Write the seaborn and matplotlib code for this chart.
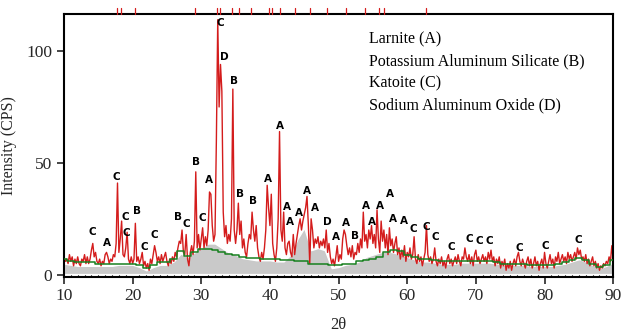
import numpy as np
import pandas as pd
import matplotlib
matplotlib.use("Agg")
import matplotlib.pyplot as plt
from matplotlib.ticker import MultipleLocator
import matplotlib.transforms as mtransforms
import seaborn as sns

# ---- data -------------------------------------------------------------
# measured intensity (CPS), scan 10..90 deg 2theta, step 0.2
intensity = [
    8, 6, 7, 5, 9, 6, 8, 4, 7, 5, 8, 5, 4, 7, 6, 9, 5, 8, 5, 7, 11, 14, 8, 10, 6,
    5, 7, 4, 6, 5, 9, 10, 8, 5, 7, 6, 9, 8, 14, 41, 10, 16, 24, 9, 8, 12, 19, 7, 5, 8,
    5, 7, 23, 6, 8, 5, 7, 10, 4, 6, 3, 5, 2, 7, 5, 9, 13, 10, 6, 8, 5, 9, 6, 8, 10,
    6, 4, 7, 5, 8, 6, 10, 8, 12, 15, 14, 20, 10, 9, 18, 7, 4, 10, 13, 9, 15, 46, 12, 18, 11,
    16, 21, 12, 17, 13, 20, 37, 36, 22, 15, 18, 60, 114, 75, 94, 82, 28, 17, 22, 14, 18, 15, 25, 83, 20,
    14, 20, 32, 18, 24, 12, 16, 10, 8, 14, 18, 16, 28, 20, 15, 22, 12, 8, 6, 10, 7, 12, 20, 40, 30,
    22, 36, 14, 9, 6, 12, 25, 64, 20, 15, 28, 12, 9, 14, 15, 10, 8, 18, 9, 14, 18, 22, 25, 20, 24,
    27, 30, 35, 22, 5, 25, 20, 12, 16, 14, 17, 12, 15, 13, 16, 12, 20, 10, 14, 8, 5, 7, 4, 8, 13,
    6, 9, 7, 16, 20, 18, 13, 9, 12, 8, 13, 7, 10, 9, 14, 10, 16, 12, 28, 15, 18, 12, 20, 16, 22,
    14, 18, 12, 29, 16, 10, 24, 15, 20, 12, 18, 9, 21, 13, 16, 10, 14, 17, 9, 12, 7, 11, 8, 13, 6,
    10, 8, 12, 7, 9, 17, 7, 5, 9, 6, 8, 4, 7, 10, 22, 9, 6, 8, 5, 7, 12, 6, 4, 7, 5,
    8, 4, 6, 3, 7, 9, 5, 7, 4, 6, 8, 5, 9, 6, 4, 8, 7, 12, 8, 6, 9, 5, 8, 4, 9,
    11, 6, 8, 5, 7, 9, 6, 8, 5, 10, 7, 11, 6, 8, 4, 7, 5, 8, 3, 6, 4, 7, 2, 5, 3,
    6, 2, 5, 7, 4, 8, 10, 6, 4, 7, 5, 3, 6, 8, 4, 7, 3, 5, 8, 4, 6, 2, 5, 7, 3,
    10, 5, 3, 6, 9, 5, 7, 3, 8, 6, 10, 5, 7, 9, 6, 8, 5, 10, 7, 9, 6, 8, 10, 7, 12,
    9, 11, 7, 8, 6, 9, 5, 7, 4, 6, 8, 4, 6, 3, 5, 2, 4, 3, 5, 4, 6, 5, 8, 6, 13,
    7,
]
two_theta = np.round(np.linspace(10, 90, len(intensity)), 2)

# background (green) and amorphous fill (gray), 1 deg step
bg_theta = list(range(10, 91))
background = [7, 6, 5.5, 5.5, 5.5, 5, 5, 5, 5, 5, 5, 4.5, 3, 4.5, 5.5, 5.5, 7, 10.5, 8.5, 10,
              11.5, 11.5, 11, 10, 9.5, 9, 8, 7.5, 7.5, 7, 7, 7, 6.5, 6.5, 6, 6, 5, 5, 5, 4.5,
              4.5, 5, 5, 6, 6.5, 7, 8, 10, 11, 10.5, 9, 8, 7, 7, 6.5, 6, 6, 6, 6, 6,
              6, 6, 6, 5.5, 5, 5, 5, 5, 4.5, 4.5, 4.5, 4.5, 5, 5.5, 6.5, 7.5, 6.5, 5, 3.5, 4.5,
              6.5]
amorphous = [5, 4.5, 4, 4, 4, 4, 4, 4, 4.5, 4.5, 4.5, 3.5, 2, 3.5, 4.5, 4.5, 6, 9.5, 8, 10,
             12, 14, 14, 12, 10, 9, 7.5, 7, 6.5, 6.5, 6.5, 6, 6, 9, 16, 21, 11, 12, 11, 3,
             3.5, 4.5, 5, 6, 8, 9, 10, 10.5, 10, 9, 8, 7, 6, 6, 5.5, 5, 5, 5, 5.5, 5.5,
             5.5, 5.5, 5.5, 5, 4.5, 4.5, 4.5, 4.5, 4, 4, 4, 4, 4.5, 5, 6, 7, 6, 4.5, 3, 4,
             5.5]

# phase reference markers on top
ref_lines = [17.7, 18.3, 20.4, 29.1, 32.3, 32.8, 34.5, 35.5, 37.2, 39.8, 40.3, 41.4,
             43.6, 45.8, 48.3, 51.1, 53.8, 55.9, 56.6, 62.8]

# peak labels: letter, 2theta, height of label
peak_letters = ["C", "A", "C", "C", "C", "B", "C", "C", "B", "C", "B", "C", "A", "C", "D",
                "B", "B", "B", "A", "A", "A", "A", "A", "A", "A", "D", "A", "A", "B", "A",
                "A", "A", "A", "A", "A", "C", "C", "C", "C", "C", "C", "C", "C", "C", "C"]
peak_x = [14.08, 16.27, 17.58, 18.90, 19.15, 20.60, 21.67, 23.17, 26.67, 27.79, 29.21, 30.13,
          31.05, 32.75, 33.34, 34.80, 35.67, 37.52, 39.65, 41.50, 42.48, 42.96, 44.17, 45.40,
          46.61, 48.40, 49.67, 51.13, 52.44, 54.01, 54.88, 56.09, 57.45, 57.94, 59.59, 60.95,
          62.80, 64.11, 66.45, 68.97, 70.43, 71.99, 76.37, 80.16, 84.93]
peak_y = [19.2, 14.3, 43.8, 25.9, 18.8, 28.6, 12.6, 17.9, 26.0, 22.8, 50.6, 25.3,
          42.4, 112.4, 97.5, 86.6, 36.2, 33.0, 42.9, 66.5, 30.5, 23.8, 27.5, 37.6,
          29.8, 23.8, 16.8, 23.1, 17.4, 30.8, 23.8, 30.9, 36.2, 24.9, 24.2, 20.5,
          21.3, 16.7, 12.6, 15.9, 15.3, 15.3, 11.9, 12.9, 15.6]

legend_lines = ["Larnite (A)", "Potassium Aluminum Silicate (B)", "Katoite (C)",
                "Sodium Aluminum Oxide (D)"]

# ---- plot ---------------------------------------------------------------
sns.set_style("ticks")
plt.rcParams["font.family"] = ["Liberation Serif", "DejaVu Serif"]

fig = plt.figure(figsize=(6.27, 3.36), dpi=100)
ax = fig.add_axes([0.102, 0.1756, 0.876, 0.7824])

df = pd.DataFrame({"two_theta": two_theta, "intensity": intensity})
bg = pd.DataFrame({"two_theta": bg_theta, "background": background, "amorphous": amorphous})

ax.fill_between(bg["two_theta"], 0.3, bg["amorphous"], color="#c9c9c9",
                edgecolor="white", linewidth=1.0, zorder=1)
sns.lineplot(data=df, x="two_theta", y="intensity", ax=ax, color="#d41c1c",
             linewidth=1.0, zorder=2, estimator=None)
sns.lineplot(data=bg, x="two_theta", y="background", ax=ax, color="#17801f",
             linewidth=1.1, zorder=3, estimator=None, drawstyle="steps-mid")

trans = mtransforms.blended_transform_factory(ax.transData, ax.transAxes)
for r in ref_lines:
    ax.plot([r, r], [1.0, 1.025], color="#d41c1c", lw=0.9, transform=trans,
            clip_on=False, zorder=5)

for letter, px, py in zip(peak_letters, peak_x, peak_y):
    ax.text(px, py, letter, ha="center", va="center", fontsize=7.5,
            fontweight="bold", family="DejaVu Sans", color="black", zorder=6)

for i, line in enumerate(legend_lines):
    ax.text(54.5, 105.4 - i * 9.9, line, ha="left", va="center", fontsize=11.5,
            color="black")

ax.set_xlim(10, 90)
ax.set_ylim(-1, 116.5)
ax.set_xticks([10, 20, 30, 40, 50, 60, 70, 80, 90])
ax.set_yticks([0, 50, 100])
ax.xaxis.set_minor_locator(MultipleLocator(1))
ax.tick_params(axis="x", which="major", direction="out", length=5, width=1.2,
               labelsize=12.5, pad=3)
ax.tick_params(axis="x", which="minor", direction="in", length=3, width=0.8)
ax.tick_params(axis="y", which="major", direction="out", length=5, width=1.2,
               labelsize=12.5)
ax.set_xlabel("2θ", fontsize=12, labelpad=9)
ax.set_ylabel("Intensity (CPS)", fontsize=11.5)
ax.yaxis.set_label_coords(-0.086, 0.5)
for s in ax.spines.values():
    s.set_visible(True)
    s.set_linewidth(1.5)
    s.set_color("black")

fig.savefig("out.png", dpi=100)
